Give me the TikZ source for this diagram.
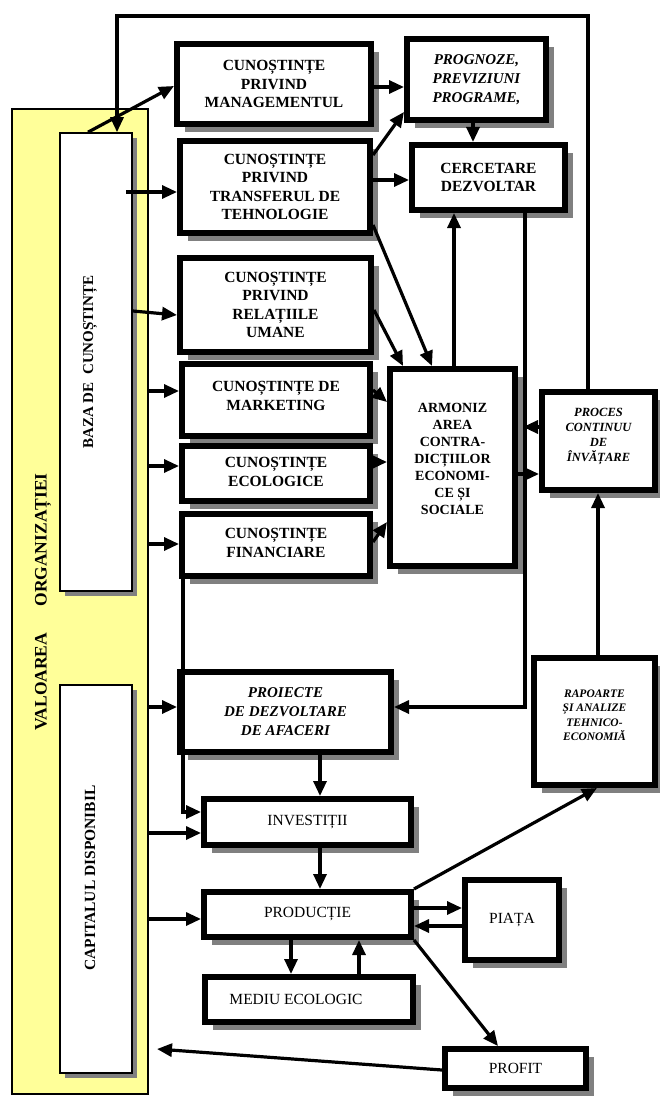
\documentclass[tikz,border=0pt]{standalone}
\usepackage{fontspec}
\setmainfont{Liberation Serif}
\usetikzlibrary{arrows.meta,shadows}
\definecolor{yel}{RGB}{255,255,153}
\definecolor{shad}{RGB}{128,128,128}
\begin{document}
\begin{tikzpicture}[x=1pt,y=-1pt,
  thickbox/.style={draw, line width=6pt, fill=white, inner sep=0pt,
    drop shadow={shadow xshift=8pt, shadow yshift=-8pt, fill=shad, opacity=1}},
  thinbox/.style={draw, line width=1.6pt, fill=white, inner sep=0pt,
    drop shadow={shadow xshift=5pt, shadow yshift=-5pt, fill=shad, opacity=1}},
  bf/.style={font=\fontsize{15.5}{18.5}\selectfont\bfseries, align=center},
  bi/.style={font=\fontsize{15}{19}\selectfont\bfseries\itshape, align=center},
  rm/.style={font=\fontsize{15.5}{18.5}\selectfont, align=center},
  arr/.style={line width=3.2pt, -{Triangle[length=15pt,width=13pt]}}
]
\useasboundingbox (0,0) rectangle (659,1097);

% left column
\node[draw, line width=1.6pt, fill=yel, minimum width=136pt, minimum height=985pt, inner sep=0pt] (yellow) at (80,601.5) {};
\node[thinbox, minimum width=72pt, minimum height=458pt] (baza) at (96,362) {};
\node[thinbox, minimum width=72pt, minimum height=388pt] (cap) at (96,879) {};
\node[rotate=90, font=\fontsize{17.5}{20}\selectfont\bfseries] (valtxt) at (43,602) {VALOAREA\quad\ \ ORGANIZAȚIEI};
\node[rotate=90, font=\fontsize{15}{18}\selectfont\bfseries] (bazatxt) at (90,362) {BAZA DE\ \ CUNOȘTINȚE};
\node[rotate=90, font=\fontsize{15.5}{18}\selectfont\bfseries] (captxt) at (90,878) {CAPITALUL DISPONIBIL};

% knowledge boxes
\node[thickbox, bf, minimum width=194pt, minimum height=80pt] (mgmt) at (274,84) {CUNOȘTINȚE\\PRIVIND\\MANAGEMENTUL};
\node[thickbox, bf, minimum width=190pt, minimum height=92pt] (transf) at (275,187) {CUNOȘTINȚE\\PRIVIND\\TRANSFERUL DE\\TEHNOLOGIE};
\node[thickbox, bf, minimum width=191pt, minimum height=94pt] (rel) at (275.5,305) {CUNOȘTINȚE\\PRIVIND\\RELAȚIILE\\UMANE};
\node[thickbox, minimum width=188pt, minimum height=72pt] (mkt) at (276,400) {};
\node[bf] (mkttxt) at (276,396) {CUNOȘTINȚE DE\\MARKETING};
\node[thickbox, minimum width=188pt, minimum height=55pt] (eco) at (276,473.5) {};
\node[bf] (ecotxt) at (276,472) {CUNOȘTINȚE\\ECOLOGICE};
\node[thickbox, minimum width=188pt, minimum height=62pt] (fin) at (276,545) {};
\node[bf] (fintxt) at (276,543) {CUNOȘTINȚE\\FINANCIARE};

% right top
\node[thickbox, bi, minimum width=139pt, minimum height=81pt] (prog) at (476.5,79.5) {PROGNOZE,\\PREVIZIUNI\\PROGRAME,};
\node[thickbox, bf, minimum width=153pt, minimum height=65pt] (cerc) at (488.5,177.5) {CERCETARE\\DEZVOLTAR};
\node[thickbox, minimum width=125pt, minimum height=197pt] (arm) at (452.5,467.5) {};
\node[font=\fontsize{14}{17}\selectfont\bfseries, align=center] (armtxt) at (452.5,459) {ARMONIZ\\AREA\\CONTRA-\\DICȚIILOR\\ECONOMI-\\CE ȘI\\SOCIALE};
\node[thickbox, minimum width=113pt, minimum height=98pt] (proc) at (598.5,441) {};
\node[font=\fontsize{12.5}{15}\selectfont\bfseries\itshape, align=center] (proctxt) at (598.5,436) {PROCES\\CONTINUU\\DE\\ÎNVĂȚARE};

% lower boxes
\node[thickbox, bi, minimum width=211pt, minimum height=80pt] (proi) at (285.5,712) {PROIECTE\\DE DEZVOLTARE\\DE AFACERI};
\node[thickbox, rm, minimum width=207pt, minimum height=46pt] (inv) at (307.5,822) {INVESTIȚII};
\node[thickbox, rm, minimum width=207pt, minimum height=45pt] (prod) at (307.5,914.5) {PRODUCȚIE};
\node[thickbox, minimum width=208pt, minimum height=45pt] (med) at (309,999.5) {};
\node[rm] (medtxt) at (296,999) {MEDIU ECOLOGIC};
\node[thickbox, minimum width=121pt, minimum height=127pt] (rap) at (594.5,721.5) {};
\node[font=\fontsize{11.5}{14.5}\selectfont\bfseries\itshape, align=center] (raptxt) at (594.5,715) {RAPOARTE\\ȘI ANALIZE\\TEHNICO-\\ECONOMIĂ};
\node[thickbox, rm, minimum width=94pt, minimum height=80pt] (piata) at (512,920) {PIAȚA};
\node[thickbox, rm, minimum width=141pt, minimum height=39pt] (profit) at (515.5,1068.5) {PROFIT};

\coordinate (yelpt) at (157,1049);

% connectors
\draw[arr] (baza.north -| 88,0) -- (mgmt.west |- 0,86);
\draw[arr] (proc.north -| 588,0) -- (588,16) -- (117,16) -- (baza.north -| 117,0);
\draw[arr] (126,192) -- (transf.west |- 0,192);
\draw[arr] (baza.east |- 0,311) -- (rel.west |- 0,315);
\draw[arr] (yellow.east |- 0,391) -- (mkt.west |- 0,391);
\draw[arr] (yellow.east |- 0,466) -- (eco.west |- 0,466);
\draw[arr] (yellow.east |- 0,544) -- (fin.west |- 0,544);
\draw[arr] (yellow.east |- 0,707) -- (proi.west |- 0,707);
\draw[arr] (yellow.east |- 0,833) -- (inv.west |- 0,833);
\draw[arr] (yellow.east |- 0,919) -- (prod.west |- 0,919);
\draw[arr] (fin.south -| 183,0) -- (183,812) -- (inv.west |- 0,812);

\draw[arr] (mgmt.east |- 0,87) -- (prog.west |- 0,87);
\draw[arr] (transf.east |- 0,155) -- (prog.west |- 0,112);
\draw[arr] (transf.east |- 0,180) -- (cerc.west |- 0,180);
\draw[arr] (transf.east |- 0,225) -- (arm.north -| 432,0);
\draw[arr] (rel.east |- 0,310) -- (arm.north -| 403,0);
\draw[arr] (prog.south -| 473,0) -- (cerc.north -| 473,0);
\draw[arr] (arm.north -| 454,0) -- (cerc.south -| 454,0);
\draw[arr] (cerc.south -| 525,0) -- (525,707) -- (proi.east |- 0,707);

\draw[arr] (mkt.east |- 0,390) -- (arm.west |- 0,402);
\draw[arr] (eco.east |- 0,462) -- (arm.west |- 0,462);
\draw[arr] (fin.east |- 0,542) -- (arm.west |- 0,522);
\draw[arr] (proc.west |- 0,427) -- (523,427);
\draw[arr] (arm.east |- 0,474) -- (proc.west |- 0,474);
\draw[arr] (rap.north -| 598,0) -- (proc.south -| 598,0);

\draw[arr] (proi.south -| 320,0) -- (inv.north -| 320,0);
\draw[arr] (inv.south -| 320,0) -- (prod.north -| 320,0);
\draw[arr] (prod.south -| 291,0) -- (med.north -| 291,0);
\draw[arr] (med.north -| 359,0) -- (prod.south -| 359,0);
\draw[arr] (prod.north east) -- (rap.south -| 597,0);
\draw[arr] (prod.east |- 0,908) -- (piata.west |- 0,908);
\draw[arr] (piata.west |- 0,926) -- (prod.east |- 0,926);
\draw[arr] (prod.south east) -- (profit.north -| 498,0);
\draw[arr] (profit.west |- 0,1070) -- (yelpt);
\end{tikzpicture}
\end{document}
